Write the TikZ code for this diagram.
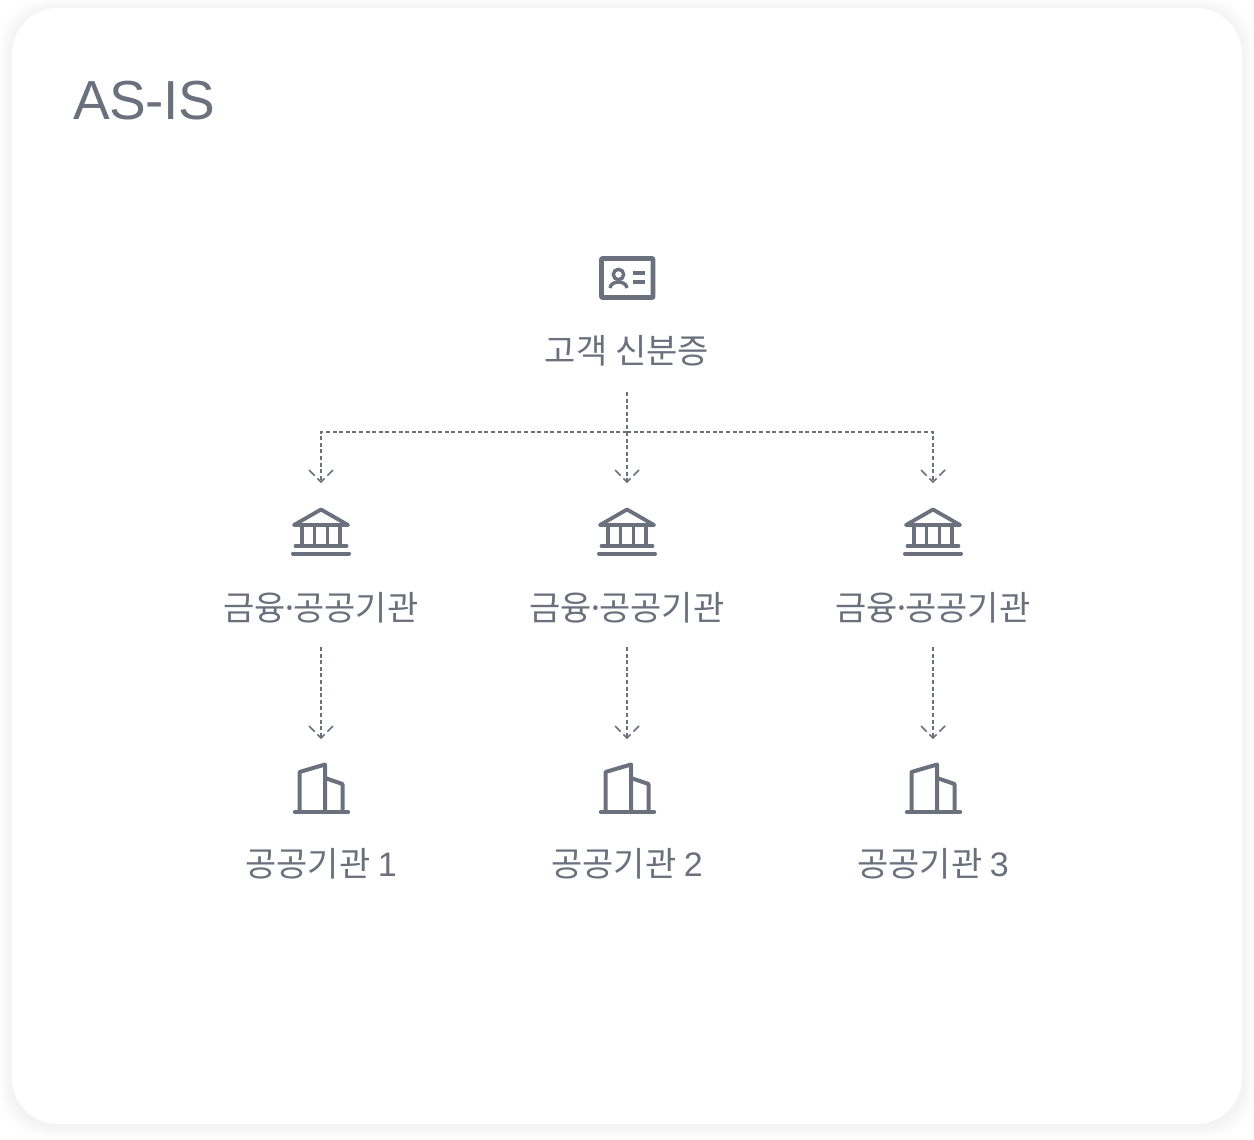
\documentclass[tikz,border=0pt]{standalone}
\usepackage{fontspec}
\setmainfont{Noto Sans CJK KR}
\newfontfamily\titlefont[LetterSpace=-0.8]{Liberation Sans}
\usetikzlibrary{calc}
\definecolor{inkgray}{RGB}{106,113,125}
\tikzset{
    label/.style={text=inkgray, font=\fontsize{34}{34}\selectfont, inner sep=0pt, outer sep=0pt},
    iconbox/.style={minimum width=60pt, minimum height=100pt, inner sep=0pt, outer sep=0pt},
    flow/.style={draw=inkgray, line width=1.7pt, dash pattern=on 4pt off 2.6pt},
    flowhead/.style={draw=inkgray, line width=1.7pt, dash pattern=on 8pt off 4pt on 10pt off 4pt on 8pt},
    iconline/.style={draw=inkgray, line width=4pt, line cap=round, line join=round},
}
\begin{document}
\begin{tikzpicture}[x=1pt, y=-1pt]
            \useasboundingbox (0, 0) rectangle (1254, 1140);

            \foreach \g in {1, ..., 12}
                \fill[black, opacity=0.005, rounded corners=46pt] (12-\g, 10-\g) rectangle (1242+\g, 1126+\g);
            \fill[white, rounded corners=46pt] (12, 8) rectangle (1242, 1124);

            \node[text=inkgray, anchor=base west, inner sep=0pt, font=\titlefont\fontsize{55}{55}\selectfont] (title) at (73, 120) {AS-IS};

            \node[iconbox] (idcard) at (627, 278) {};
            \draw[iconline, line width=4.6pt, rounded corners=0.5pt] (601.5, 258.5) rectangle (653, 297.5);
            \draw[iconline, line width=3.4pt] (618.5, 274.5) circle (5.2);
            \draw[iconline, line width=3.4pt, line cap=butt] (610, 288) .. controls (611, 280) and (626, 280) .. (627, 288);
            \draw[iconline, line width=3.4pt, line cap=butt] (633, 273) -- (645, 273);
            \draw[iconline, line width=3.4pt, line cap=butt] (633, 282) -- (645, 282);
            \node[label, minimum height=82pt] (idlabel) at (627, 351) {고객 신분증};

            \coordinate (branch) at (627, 432);
            \draw[flow] (idlabel.south) -- (branch);

            \foreach \i/\x in {1/321, 2/627, 3/933} {
                \node[iconbox] (bank\i) at (\x, 532) {};
                \node[label, minimum height=78pt] (banklabel\i) at (\x, 608) {금융\hspace{-6pt}·\hspace{-6pt}공공기관};
                \node[iconbox] (tower\i) at (\x, 788) {};
                \node[label] (towerlabel\i) at (\x, 864) {공공기관 {\titlefont\i}};

                \draw[flow] (branch) -| (bank\i.north);
                \draw[flow] (banklabel\i.south) -- (tower\i.north);
                \draw[flowhead] ([shift={(-12, -12)}]bank\i.north) -- (bank\i.north) -- ([shift={(12, -12)}]bank\i.north);
                \draw[flowhead] ([shift={(-12, -12)}]tower\i.north) -- (tower\i.north) -- ([shift={(12, -12)}]tower\i.north);

                \begin{scope}[shift={(\x, 0)}]
                    \draw[iconline, line width=3.8pt] (-27, 525) -- (0, 509.5) -- (27, 525) -- cycle;
                    \foreach \c in {-19, -6.5, 6.5, 19}
                        \draw[iconline, line width=3.8pt, line cap=butt] (\c, 525) -- (\c, 546);
                    \draw[iconline, line width=3.8pt] (-25.5, 546) -- (25.5, 546);
                    \draw[iconline] (-28, 553.5) -- (28, 553.5);

                    \draw[iconline] (-21.5, 812) -- (-21.5, 772) -- (4, 764.5) -- (4, 812);
                    \draw[iconline] (4, 778) -- (21.5, 784) -- (21.5, 812);
                    \draw[iconline, line width=4.4pt] (-26, 812) -- (27, 812);
                \end{scope}
            }
        \end{tikzpicture}
\end{document}
